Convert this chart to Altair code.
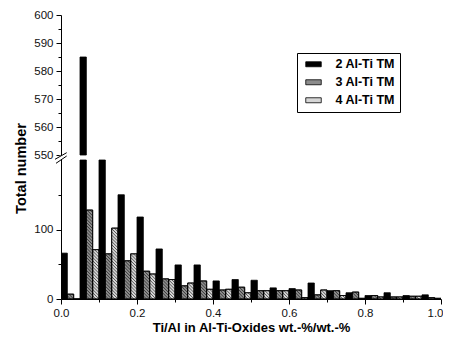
import altair as alt
import pandas as pd

# ---- data ----
bin_starts = [0.00, 0.05, 0.10, 0.15, 0.20, 0.25, 0.30, 0.35, 0.40, 0.45,
              0.50, 0.55, 0.60, 0.65, 0.70, 0.75, 0.80, 0.85, 0.90, 0.95]
series = ["2 Al-Ti TM", "3 Al-Ti TM", "4 Al-Ti TM"]
al_ti_2 = [66, 585, 350, 150, 118, 72, 49, 49, 26, 28, 27, 16, 15, 23, 12, 9, 5, 9, 5, 6]
al_ti_3 = [7, 128, 65, 55, 40, 29, 19, 26, 13, 17, 12, 12, 13, 6, 12, 10, 5, 3, 4, 2]
al_ti_4 = [0, 71, 102, 65, 36, 28, 23, 14, 14, 9, 12, 12, 2, 13, 5, 1, 3, 3, 4, 1]
x_ticks = [0.0, 0.1, 0.2, 0.3, 0.4, 0.5, 0.6, 0.7, 0.8, 0.9, 1.0]
y_ticks = [0, 50, 100, 150, 550, 555, 560, 565, 570, 575, 580, 585, 590, 595, 600]

BIN_W = 0.05
fills = ["#000000", "#8c8c8c", "#d6d6d6"]

rows = []
for i, b in enumerate(bin_starts):
    for k, vals in enumerate([al_ti_2, al_ti_3, al_ti_4]):
        rows.append({"bin": b, "k": k, "series": series[k], "value": vals[i]})
df = pd.DataFrame(rows)

# ---- geometry (plot area) ----
W, H = 380, 284
LOW_TOP_PX = 145   # pixel position of 200 (lower segment top)
HIGH_BOT_PX = 140  # pixel position of 550 (upper segment bottom)
px_per_unit_low = (H - LOW_TOP_PX) / 200.0
bar_px = BIN_W / 3 * W
D = bar_px / px_per_unit_low   # 45-degree hatch rise in data units
STEP = 4.6

FONT = "Liberation Sans"

xscale = alt.Scale(domain=[0, 1], nice=False, zero=False)
yscale = alt.Scale(domain=[0, 200, 550, 600], range=[H, LOW_TOP_PX, HIGH_BOT_PX, 0], nice=False, zero=False)

xaxis = alt.Axis(
    values=x_ticks,
    labelExpr="round(datum.value*10) % 2 == 0 ? format(datum.value, '.1f') : ''",
    tickSize={"condition": {"test": "round(datum.value*10) % 2 == 0", "value": 5}, "value": 3},
    labelAlign={"condition": {"test": "datum.value >= 1", "value": "right"}, "value": "center"},
    labelOffset={"condition": {"test": "datum.value >= 1", "value": 2}, "value": 0},
    grid=False, domainColor="black", tickColor="black", labelColor="#111",
    labelFont=FONT, labelFontSize=11.5, labelFlush=False, labelOverlap=False, labelPadding=3,
    title="Ti/Al in Al-Ti-Oxides wt.-%/wt.-%", titleFont=FONT, titleFontSize=13,
    titleFontWeight="bold", titleColor="black", titlePadding=3,
)
yaxis = alt.Axis(
    values=y_ticks,
    labelExpr="(datum.value == 0 || datum.value == 100 || (datum.value >= 550 && datum.value % 10 == 0)) ? datum.label : ''",
    tickSize={"condition": {"test": "datum.value == 0 || datum.value == 100 || (datum.value >= 550 && datum.value % 10 == 0)", "value": 5}, "value": 3},
    grid=False, domainColor="black", tickColor="black", labelColor="#111",
    labelFont=FONT, labelFontSize=11.5, labelOverlap=False, labelPadding=3,
    title="Total number", titleFont=FONT, titleFontSize=14.5, titleFontWeight="bold",
    titleColor="black", titleAngle=270, titleAlign="center", titleBaseline="alphabetic",
    titleX=-36, titleY=153,
)

color = alt.Color(
    "series:N",
    scale=alt.Scale(domain=series, range=fills),
    legend=alt.Legend(
        title=None, orient="none", legendX=236, legendY=38, direction="vertical",
        symbolType="M-0.5,-0.5H2.6V0.5H-0.5Z", symbolSize=100,
        symbolStrokeColor="black", symbolStrokeWidth=0.8, symbolOffset=0,
        labelOffset=21, labelFont=FONT, labelFontSize=12.5, labelFontWeight="bold",
        labelColor="black", strokeColor="black", fillColor="white", padding=5,
        rowPadding=5,
    ),
)

base = alt.Chart(df).transform_calculate(
    x0=f"datum.bin + datum.k*{BIN_W}/3",
    x1=f"datum.bin + (datum.k+1)*{BIN_W}/3",
    lo="min(datum.value, 200)",
    y0="0",
    y550="550",
)

lower = base.mark_rect(stroke="black", strokeWidth=0.8, clip=True).encode(
    x=alt.X("x0:Q", scale=xscale, axis=xaxis),
    x2="x1:Q",
    y=alt.Y("lo:Q", scale=yscale, axis=yaxis),
    y2="y0:Q",
    color=color,
)

upper = base.transform_filter("datum.value > 550").mark_rect(
    stroke="black", strokeWidth=0.8, clip=True
).encode(
    x=alt.X("x0:Q", scale=xscale, axis=xaxis),
    x2="x1:Q",
    y=alt.Y("value:Q", scale=yscale, axis=yaxis),
    y2="y550:Q",
    color=color,
)

hatch = (
    base.transform_filter("datum.k > 0")
    .transform_calculate(s_arr=f"sequence({-D}, datum.lo, {STEP})")
    .transform_flatten(["s_arr"], as_=["s"])
    .transform_calculate(
        ulo=f"max(0, (datum.s + {D} - datum.lo)/{D})",
        uhi=f"min(1, (datum.s + {D})/{D})",
    )
    .transform_filter("datum.ulo < datum.uhi")
    .transform_calculate(
        xa="datum.x0 + datum.ulo*(datum.x1 - datum.x0)",
        xb="datum.x0 + datum.uhi*(datum.x1 - datum.x0)",
        ya=f"datum.s + {D} - datum.ulo*{D}",
        yb=f"datum.s + {D} - datum.uhi*{D}",
    )
    .mark_rule(color="black", strokeWidth=0.6, clip=True)
    .encode(
        x=alt.X("xa:Q", scale=xscale, axis=xaxis),
        x2="xb:Q",
        y=alt.Y("ya:Q", scale=yscale, axis=yaxis),
        y2="yb:Q",
    )
)

outline = base.mark_rect(fill=None, stroke="black", strokeWidth=0.8, clip=True).transform_filter("datum.k > 0").encode(
    x=alt.X("x0:Q", scale=xscale, axis=xaxis),
    x2="x1:Q",
    y=alt.Y("lo:Q", scale=yscale, axis=yaxis),
    y2="y0:Q",
)

# axis-break decoration
one = pd.DataFrame({"a": [0]})
gap = alt.Chart(one).mark_rule(color="white", strokeWidth=3).encode(
    x=alt.value(0), y=alt.value(HIGH_BOT_PX + 0.5), y2=alt.value(LOW_TOP_PX - 0.5)
)
brk1 = alt.Chart(one).mark_rule(color="black", strokeWidth=1).encode(
    x=alt.value(-5), x2=alt.value(5.7), y=alt.value(148.3), y2=alt.value(141)
)
brk2 = alt.Chart(one).mark_rule(color="black", strokeWidth=1).encode(
    x=alt.value(-6), x2=alt.value(5.7), y=alt.value(144.3), y2=alt.value(137.7)
)

chart = (
    alt.layer(lower, upper, hatch, outline, gap, brk1, brk2)
    .properties(
        width=W, height=H,
        padding={"left": 53, "top": 7, "right": 2, "bottom": 38},
        autosize=alt.AutoSizeParams(type="none"),
        background="white",
    )
    .configure_view(stroke=None)
)

chart.save("out.html", embed_options={"renderer": "svg", "actions": False})
